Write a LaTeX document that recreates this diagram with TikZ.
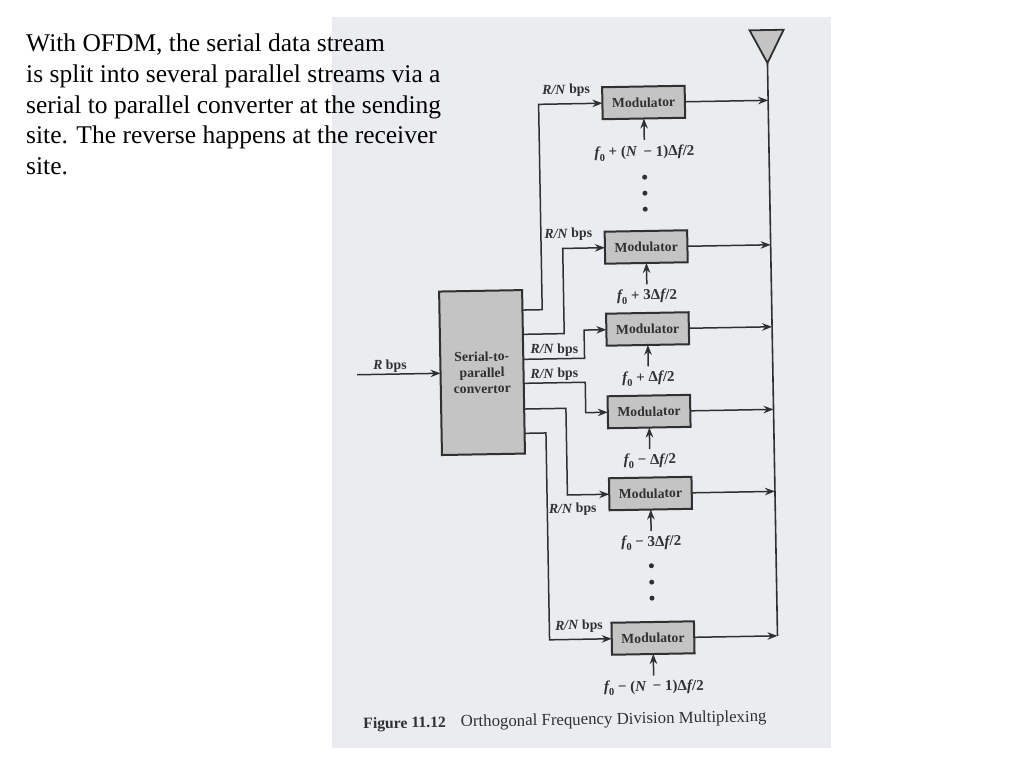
\documentclass[tikz,border=0pt]{standalone}
\usepackage{fontspec}
\setmainfont{Liberation Serif}
\usetikzlibrary{arrows.meta}
\definecolor{page}{HTML}{EBECF0}
\definecolor{ink}{HTML}{2F3030}
\definecolor{boxfill}{HTML}{C4C4C4}
\newcommand{\fz}{{\bfseries\itshape f}\raisebox{-0.28em}{\fontsize{10.5}{11}\selectfont\bfseries 0}}
\newcommand{\df}{Δ{\itshape f}/2}
\newcommand{\rn}{{\bfseries\itshape R/N} \textbf{bps}}
\tikzset{
  modbox/.style={draw=ink,line width=2pt,fill=boxfill,minimum width=82.5pt,minimum height=32pt,inner sep=0pt,outer sep=0pt,text=ink,font=\fontsize{13.7}{15}\selectfont\bfseries},
  convbox/.style={draw=ink,line width=2pt,fill=boxfill,minimum width=83pt,minimum height=163.5pt,inner sep=0pt,outer sep=0pt,text=ink,align=center,font=\fontsize{13.7}{16}\selectfont\bfseries},
  conn/.style={draw=ink,line width=1.5pt,-{Stealth[length=10pt,width=7.5pt]}},
  mast/.style={draw=ink,line width=1.6pt},
  lab/.style={text=ink,inner sep=0pt,font=\fontsize{13.8}{15}\selectfont},
  freq/.style={text=ink,inner sep=0pt,font=\fontsize{15}{16}\selectfont\bfseries},
  dotmark/.style={circle,fill=ink,inner sep=0pt,minimum size=5pt},
  intro/.style={anchor=base west,inner sep=0pt,text=black,font=\fontsize{25.5}{28}\selectfont}
}
\begin{document}
\begin{tikzpicture}[x=1pt,y=-1pt]
\useasboundingbox (0,0) rectangle (1024,768);
\fill[page] (332,17) rectangle (831,748);
\node[intro] (t1) at (26,52) {With OFDM, the serial data stream};
\node[intro] (t2) at (26,82.5) {is split into several parallel streams via a};
\node[intro] (t3) at (26,113) {serial to parallel converter at the sending};
\node[intro] (t4) at (26,143.5) {site. The reverse happens at the receiver};
\node[intro] (t5) at (26,174) {site.};
\begin{scope}[rotate around={1:(600,370)},transform shape]
 \node[convbox] (conv) at (482,370.5) {Serial-to-\\parallel\\convertor};
 \node[modbox] (m1) at (648.3,103.3) {Modulator};
 \node[modbox] (m2) at (648.3,247.8) {Modulator};
 \node[modbox] (m3) at (648.3,329.8) {Modulator};
 \node[modbox] (m4) at (648.3,412.4) {Modulator};
 \node[modbox] (m5) at (648.3,494.4) {Modulator};
 \node[modbox] (m6) at (648.3,638.9) {Modulator};
 % antenna
 \coordinate (apex) at (772.8,66);
 \filldraw[draw=ink,line width=1.8pt,fill=boxfill,line join=miter] (755.5,33) -- (789.5,33) -- (apex) -- cycle;
 \coordinate (j1) at (772.8,103.3);
 \coordinate (j2) at (772.8,247.8);
 \coordinate (j3) at (772.8,329.8);
 \coordinate (j4) at (772.8,412.4);
 \coordinate (j5) at (772.8,494.4);
 \coordinate (j6) at (772.8,638.9);
 \draw[mast] (apex) -- (j6);
 \foreach \i in {1,...,6} \draw[conn] (m\i.east) -- (j\i);
 % inputs
 \coordinate (rin) at (357,370.5);
 \draw[conn] (rin) -- (conv.west);
 \node[lab] (rbps) at (390,362.5) {{\bfseries\itshape R} \textbf{bps}};
 \draw[conn] (conv.east) ++(0,-61.8) -- ++(19.75,0) -- ++(0,-205.4) -- (m1.west);
 \draw[conn] (conv.east) ++(0,-37.5) -- ++(41.35,0) -- ++(0,-85.2) -- (m2.west);
 \draw[conn] (conv.east) ++(0,-12.5) -- ++(61.25,0) -- ++(0,-28.2) -- (m3.west);
 \draw[conn] (conv.east) ++(0,11.5) -- ++(61.5,0) -- ++(0,30.4) -- (m4.west);
 \draw[conn] (conv.east) ++(0,37.2) -- ++(41.75,0) -- ++(0,86.7) -- (m5.west);
 \draw[conn] (conv.east) ++(0,61.5) -- ++(21.35,0) -- ++(0,206.9) -- (m6.west);
 \node[lab] (r1) at (571,90) {\rn};
 \node[lab] (r2) at (570.7,234) {\rn};
 \node[lab] (r3) at (554.7,349.3) {\rn};
 \node[lab] (r4) at (554.3,373.8) {\rn};
 \node[lab] (r5) at (570.3,509) {\rn};
 \node[lab] (r6) at (574.5,626) {\rn};
 % frequency labels
 \node[freq] (f1) at (648.3,154) {\fz{} + ({\itshape N}\hspace{3pt} − 1)\df};
 \node[freq] (f2) at (648.3,297.5) {\fz{} + 3\df};
 \node[freq] (f3) at (648.3,379.5) {\fz{} + \df};
 \node[freq] (f4) at (648.3,462) {\fz{} − \df};
 \node[freq] (f5) at (648.3,544) {\fz{} − 3\df};
 \node[freq] (f6) at (648.3,688.5) {\fz{} − ({\itshape N}\hspace{3pt} − 1)\df};
 \foreach \i in {1,...,6} \draw[conn] (m\i.south) ++(0,21.5) -- (m\i.south);
 % dots
 \foreach \n/\v in {a/178,b/194,c/210,d/566.6,e/583,f/599} \node[dotmark] (dot\n) at (648,\v) {};
 % caption
 \node[inner sep=0pt,text=ink,anchor=base west] (cap) at (357,724.5) {{\fontsize{15.7}{17}\selectfont\bfseries Figure 11.12}\hspace{15pt}{\fontsize{16.8}{18}\selectfont Orthogonal Frequency Division Multiplexing}};
\end{scope}
\end{tikzpicture}
\end{document}
